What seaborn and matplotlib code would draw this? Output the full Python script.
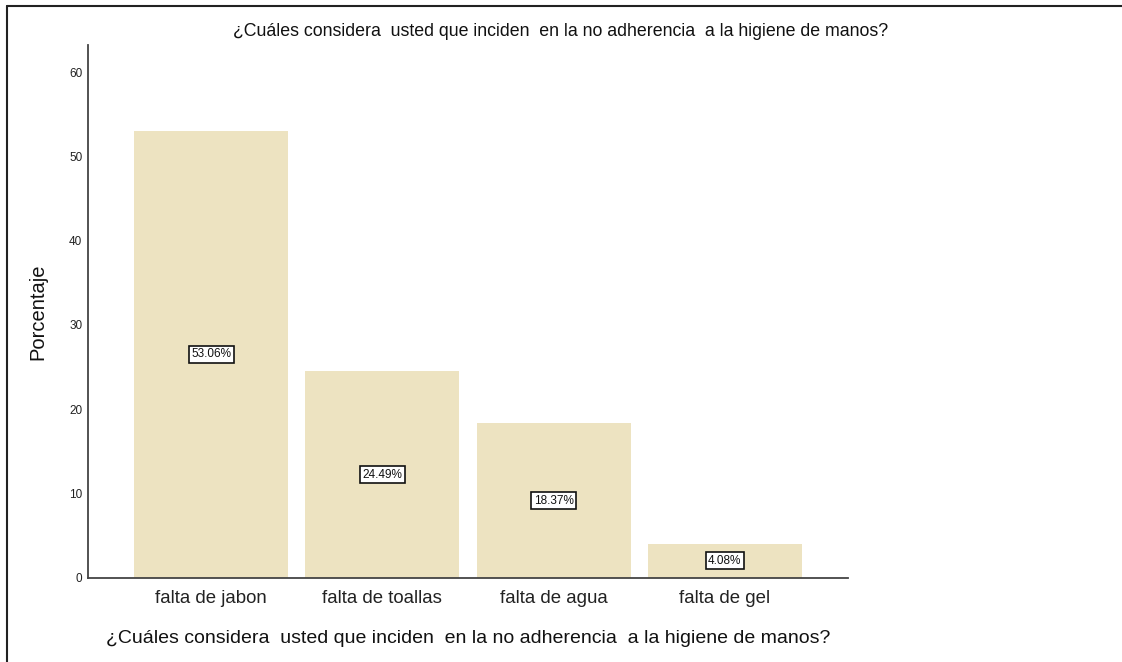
import matplotlib
matplotlib.use("Agg")
import matplotlib.pyplot as plt
import seaborn as sns
import pandas as pd
from matplotlib.lines import Line2D

categories = ["falta de jabon", "falta de toallas", "falta de agua", "falta de gel"]
percentages = [53.06, 24.49, 18.37, 4.08]
value_labels = ["53.06%", "24.49%", "18.37%", "4.08%"]
y_ticks = [0, 10, 20, 30, 40, 50, 60]
title = "¿Cuáles considera  usted que inciden  en la no adherencia  a la higiene de manos?"

sns.set_theme(style="white")
plt.rcParams["font.family"] = ["Liberation Sans", "DejaVu Sans"]

df = pd.DataFrame({"cat": categories, "pct": percentages})

fig = plt.figure(figsize=(11.22, 6.62), dpi=100)
ax = fig.add_axes([0.0784, 0.1269, 0.6774, 0.8051])
sns.barplot(data=df, x="cat", y="pct", color="#EDE3C1", width=0.9, saturation=1, ax=ax, edgecolor="none")

ax.set_xlim(-0.72, 3.72)
ax.set_ylim(0, 63.2)
ax.set_yticks(y_ticks)
ax.set_yticklabels([str(t) for t in y_ticks], fontsize=8.5)
ax.tick_params(axis="both", length=0, colors="#222222")
ax.tick_params(axis="x", labelsize=13.4, pad=9)
ax.tick_params(axis="y", pad=4)
for s in ["top", "right"]:
    ax.spines[s].set_visible(False)
for s in ["left", "bottom"]:
    ax.spines[s].set_color("#444444")
    ax.spines[s].set_linewidth(1.3)

for i, (v, lab) in enumerate(zip(percentages, value_labels)):
    ax.text(i, v / 2, lab, ha="center", va="center", fontsize=8.5, color="#111111",
            bbox=dict(boxstyle="square,pad=0.2", facecolor="white", edgecolor="#111111", linewidth=1.2))

ax.set_ylabel("Porcentaje", fontsize=14.5, labelpad=16, color="#111111")
ax.set_xlabel(title, fontsize=14, labelpad=16, color="#111111")
fig.text(0.5, 0.953, title, ha="center", va="center", fontsize=12.8, color="#111111")

# outer frame lines (top and left)
fig.add_artist(Line2D([0.006, 1.0], [0.991, 0.991], transform=fig.transFigure, color="#222222", linewidth=1.5))
fig.add_artist(Line2D([0.006, 0.006], [0.0, 0.991], transform=fig.transFigure, color="#222222", linewidth=1.5))

fig.savefig("out.png", dpi=100)
